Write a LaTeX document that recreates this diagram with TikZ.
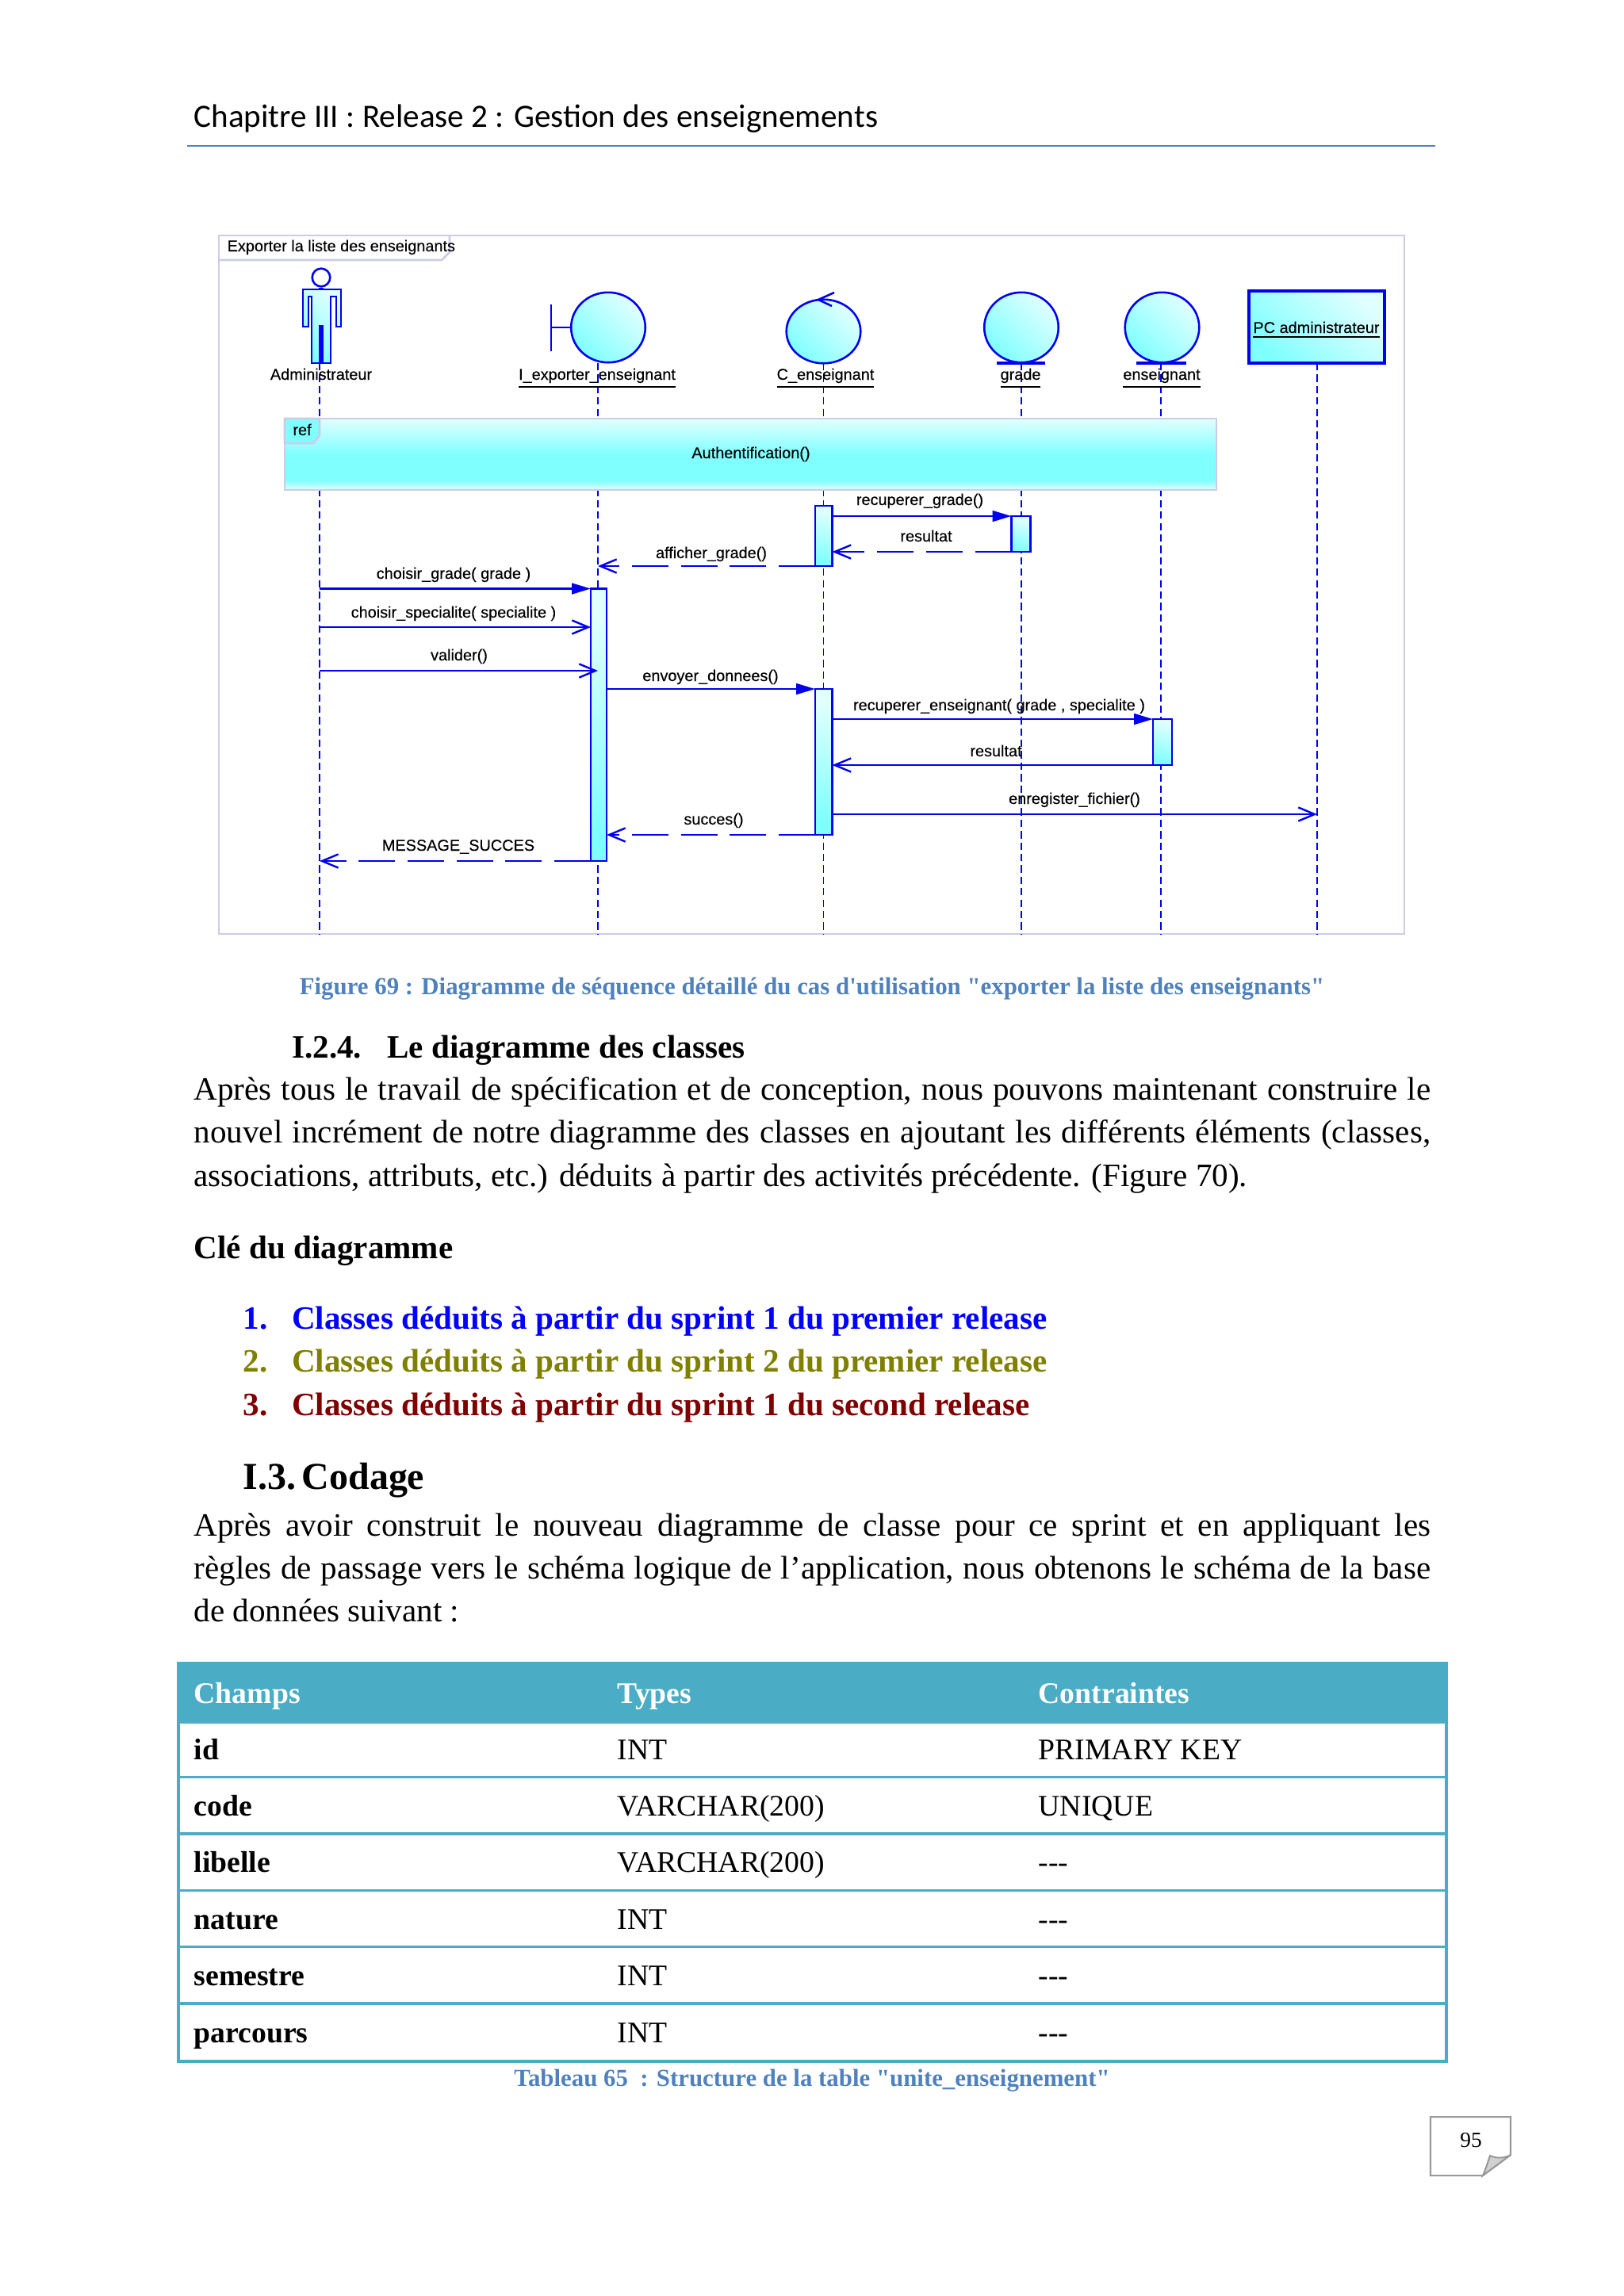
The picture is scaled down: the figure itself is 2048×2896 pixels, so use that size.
\documentclass[tikz,border=0pt]{standalone}
\usepackage{fontspec}
\setmainfont{Liberation Serif}
\setsansfont{Liberation Sans}
\newfontfamily\headfont{Carlito}
\newfontfamily\capfont{Liberation Serif}
\newfontfamily\seqfont{Liberation Sans}[FakeBold=0.25]
\usetikzlibrary{positioning,calc,fit,shapes.geometric}
\usetikzlibrary{arrows.meta}
\definecolor{SeqBlue}{RGB}{0,0,240}
\definecolor{SeqFrame}{RGB}{204,204,232}
\definecolor{PaleCyan}{RGB}{225,255,255}
\definecolor{DeepCyan}{RGB}{128,255,255}
\definecolor{RuleBlue}{RGB}{79,129,189}
\definecolor{TabTeal}{RGB}{75,172,198}
\definecolor{KeyOlive}{RGB}{128,128,0}
\definecolor{KeyRed}{RGB}{128,0,0}
\pgfdeclareverticalshading{refshade}{100bp}{color(0bp)=(PaleCyan); color(25bp)=(PaleCyan); color(32bp)=(DeepCyan); color(50bp)=(DeepCyan); color(75bp)=(PaleCyan); color(100bp)=(PaleCyan)}
\tikzset{
	callend/.tip={Triangle[length=7pt,width=4pt]},
	openend/.tip={Straight Barb[length=6pt,width=5pt,line width=0.7pt]},
	seqline/.style={draw=SeqBlue,line width=0.75pt},
	life/.style={draw=SeqBlue,line width=0.5pt,dash pattern=on 2.7pt off 1.5pt},
	call/.style={seqline,-callend},
	sendopen/.style={seqline,-openend},
	reply/.style={seqline,-openend,dash pattern=on 13.4pt off 4.6pt},
	ball/.style={seqline,ellipse,inner sep=0pt,outer sep=0pt,minimum width=27.3pt,minimum height=25.8pt,left color=PaleCyan,right color=DeepCyan,shading angle=-45},
	actbar/.style={seqline,rectangle,inner sep=0pt,outer sep=0pt,left color=PaleCyan,right color=DeepCyan,shading angle=-20},
	seqtext/.style={font=\seqfont\fontsize{5.8}{6.5}\selectfont,inner sep=0pt,anchor=base},
	bodytext/.style={font=\fontsize{12}{15.85}\selectfont,anchor=north west,inner sep=0pt,text width=455pt,align=justify},
	keyitem/.style={font=\bfseries\fontsize{12}{14}\selectfont,anchor=base west,inner sep=0pt},
	cell/.style={font=\fontsize{11}{13}\selectfont,anchor=base west,inner sep=0pt},
	boldcell/.style={cell,font=\bfseries\fontsize{11}{13}\selectfont},
	tabline/.style={draw=TabTeal,line width=1pt},
	caption/.style={font=\capfont\bfseries\fontsize{9}{11}\selectfont,text=RuleBlue,inner sep=0pt},
}

\begin{document}
\begin{tikzpicture}[x=0.010254cm,y=-0.010254cm]
	\useasboundingbox (0,0) rectangle (2048,2896);
	\node[font=\headfont\fontsize{12}{14}\selectfont,anchor=base west,inner sep=0pt] (header) at (244,160) {Chapitre III : Release 2 : Gestion des enseignements};
	\coordinate (ruleL) at (236,184);
	\coordinate (ruleR) at (1810,184);
	\draw[RuleBlue,line width=0.75pt] (ruleL)--(ruleR);

	\node[draw=SeqFrame,line width=0.8pt,inner sep=0pt,fit={(276,297)(1771,1178)}] (seqFrame) {};
	\draw[SeqFrame,line width=0.8pt] (567,297)--(567,318)--(557,328)--(276,328);
	\node[seqtext,anchor=base west] (frameTitle) at (286,317) {Exporter la liste des enseignants};

	\foreach \p/\x/\y in {admin/403/458,iExp/754/458,cEns/1038.5/458,grade/1288/458,ens/1464/458}{
		\coordinate (\p Top) at (\x,\y);
		\coordinate (\p End) at (\x,1178);
		\draw[life] (\p Top)--(\p End);
	}
	\coordinate (pcTop) at (1661,458);
	\coordinate (pcEnd) at (1661,1178);
	\draw[life,line width=0.8pt] (pcTop)--(pcEnd);

	\node[draw=SeqFrame,line width=0.8pt,inner sep=0pt,shading=refshade,fit={(359,528)(1534,618)}] (refBox) {};
	\draw[SeqFrame,line width=0.8pt,fill=DeepCyan] (359,528)--(403,528)--(403,549)--(395,559)--(359,559)--cycle;
	\node[seqtext] (refTag) at (381,549) {ref};
	\node[seqtext] (refText) at (947,578) {Authentification()};

	\draw[seqline,left color=PaleCyan,right color=DeepCyan,shading angle=-45] (382,365)--(430,365)--(430,412)--(424,412)--(424,374)--(417,374)--(417,458)--(393,458)--(393,374)--(389,374)--(389,412)--(382,412)--cycle;
	\node[seqline,circle,fill=white,inner sep=0pt,minimum size=6.6pt] (adminHead) at (405,350) {};
	\draw[seqline,line width=1.5pt] (adminHead.south)--(405,365);
	\draw[seqline,line width=1.8pt] (405,410)--(405,458);

	\node[ball] (iBall) at (767,413) {};
	\coordinate (iBarT) at (695,384);
	\coordinate (iBarB) at (695,443);
	\draw[seqline] (iBarT)--(iBarB);
	\draw[seqline] (iBarT|-iBall.west)--(iBall.west);
	\node[ball,minimum height=23.5pt] (cBall) at (1038.5,418) {};
	\draw[seqline] (1052,369)--(1032,378)--(1049,386);
	\node[ball] (gBall) at (1288,413) {};
	\node[ball] (eBall) at (1465.5,413) {};
	\draw[seqline,line width=1pt] (1257,458)--(1318,458);
	\draw[seqline,line width=1pt] (1433,458)--(1496,458);
	\node[actbar,line width=0.9pt,shading angle=-45,fit={(1575,367)(1746,458)}] (pcBox) {};

	\node[seqtext] (lblAdmin) at (405,479) {Administrateur};
	\node[seqtext] (lblI) at (753,479) {\underline{I\_exporter\_enseignant}};
	\node[seqtext] (lblC) at (1041,479) {\underline{C\_enseignant}};
	\node[seqtext] (lblG) at (1287,479) {\underline{grade}};
	\node[seqtext] (lblE) at (1465,479) {\underline{enseignant}};
	\node[seqtext] (lblPC) at (1660,420) {\underline{PC administrateur}};

	\node[actbar,fit={(1028,638)(1049.5,714)}] (actC1) {};
	\node[actbar,fit={(1275.5,651)(1299.5,696)}] (actG) {};
	\node[actbar,fit={(745,742.5)(765,1086)}] (actI) {};
	\node[actbar,fit={(1028,869)(1049.5,1053)}] (actC2) {};
	\node[actbar,fit={(1454,907)(1478,965)}] (actE) {};

	\coordinate (yChoix) at (0,791);
	\coordinate (yValider) at (0,846);
	\coordinate (yFichier) at (0,1027);
	\draw[call] (actC1.east|-actG.north)--(actG.north west);
	\draw[reply] (actG.south west)--(actC1.east|-actG.south);
	\draw[reply] (actC1.south west)--(iExpTop|-actC1.south);
	\draw[call] (adminTop|-actI.north)--(actI.north west);
	\draw[sendopen] (adminTop|-yChoix)--(actI.west|-yChoix);
	\draw[sendopen] (adminTop|-yValider)--(iExpTop|-yValider);
	\draw[call] (actI.east|-actC2.north)--(actC2.north west);
	\draw[call] (actC2.east|-actE.north)--(actE.north west);
	\draw[sendopen] (actE.south west)--(actC2.east|-actE.south);
	\draw[sendopen] (actC2.east|-yFichier)--(pcTop|-yFichier);
	\draw[reply] (actC2.south west)--(actI.east|-actC2.south);
	\draw[reply] (actI.south west)--(adminTop|-actI.south);

	\node[seqtext] (msgA) at (1160,637) {recuperer\_grade()};
	\node[seqtext] (msgB) at (1168,683) {resultat};
	\node[seqtext] (msgC) at (897,704) {afficher\_grade()};
	\node[seqtext] (msgD) at (572,730) {choisir\_grade( grade )};
	\node[seqtext] (msgE) at (572,779) {choisir\_specialite( specialite )};
	\node[seqtext] (msgF) at (579,833) {valider()};
	\node[seqtext] (msgG) at (896,859) {envoyer\_donnees()};
	\node[seqtext] (msgH) at (1260,896) {recuperer\_enseignant( grade , specialite )};
	\node[seqtext] (msgI) at (1256,954) {resultat};
	\node[seqtext] (msgJ) at (1355,1014) {enregister\_fichier()};
	\node[seqtext] (msgK) at (900,1040) {succes()};
	\node[seqtext] (msgL) at (578,1073) {MESSAGE\_SUCCES};

	\node[caption] (figCap) at (1024,1247) {Figure 69 : Diagramme de séquence détaillé du cas d'utilisation "exporter la liste des enseignants"};

	\node[font=\bfseries\fontsize{12}{14}\selectfont,anchor=base west,inner sep=0pt] (secNum) at (367.5,1334) {I.2.4.};
	\node[font=\bfseries\fontsize{12}{14}\selectfont,anchor=base west,inner sep=0pt] (secTitle) at (487.5,1334) {Le diagramme des classes};
	\node[bodytext] (paraA) at (244,1358) {Après tous le travail de spécification et de conception, nous pouvons maintenant construire le\linebreak nouvel incrément de notre diagramme des classes en ajoutant les différents éléments (classes,\linebreak associations, attributs, etc.) déduits à partir des activités précédente. (Figure 70).};
	\node[keyitem] (keyTitle) at (244,1587) {Clé du diagramme};
	\foreach \n/\t/\c/\y in {1/Classes déduits à partir du sprint 1 du premier release/blue/1676,2/Classes déduits à partir du sprint 2 du premier release/KeyOlive/1730,3/Classes déduits à partir du sprint 1 du second release/KeyRed/1785}{
		\node[keyitem,text=\c] (keyNum\n) at (306,\y) {\n.};
		\node[keyitem,text=\c] (keyText\n) at (367.5,\y) {\t};
	}
	\node[font=\bfseries\fontsize{14}{16}\selectfont,anchor=base west,inner sep=0pt] (codeNum) at (306,1878) {I.3.};
	\node[font=\bfseries\fontsize{14}{16}\selectfont,anchor=base west,inner sep=0pt] (codeTitle) at (380,1878) {Codage};
	\node[bodytext] (paraB) at (244,1908) {Après avoir construit le nouveau diagramme de classe pour ce sprint et en appliquant les\linebreak règles de passage vers le schéma logique de l’application, nous obtenons le schéma de la base\linebreak de données suivant :};

	\node[tabline,fill=TabTeal,inner sep=0pt,fit={(225,2098)(1824,2172)}] (tabHead) {};
	\node[tabline,inner sep=0pt,fit={(225,2172)(1824,2600)}] (tabBody) {};
	\foreach \k in {1,...,5}
	\draw[tabline] ($(tabBody.north west)+(0,71.3*\k)$)--($(tabBody.north east)+(0,71.3*\k)$);
	\node[boldcell,text=white] (headA) at (244,2148) {Champs};
	\node[boldcell,text=white] (headB) at (778,2148) {Types};
	\node[boldcell,text=white] (headC) at (1309,2148) {Contraintes};
	\foreach \a/\b/\c [count=\i] in {id/INT/PRIMARY KEY,code/VARCHAR(200)/UNIQUE,libelle/VARCHAR(200)/{-}{-}{-},nature/INT/{-}{-}{-},semestre/INT/{-}{-}{-},parcours/INT/{-}{-}{-}}{
		\pgfmathsetmacro{\rowy}{2219+71.4*(\i-1)}
		\node[boldcell] (rowA\i) at (244,\rowy) {\a};
		\node[cell] (rowB\i) at (778,\rowy) {\b};
		\node[cell] (rowC\i) at (1309,\rowy) {\c};
	}
	\node[caption] (tabCap) at (1024,2624) {Tableau 65\ \ : Structure de la table "unite\_enseignement"};

	\draw[draw=black!40,fill=white,line width=0.6pt] (1804,2670)--(1905,2670)--(1905,2718)--(1870,2744)--(1804,2744)--cycle;
	\draw[draw=black!40,fill=black!18,line width=0.6pt] (1870,2744) .. controls (1874,2735) and (1876,2728) .. (1879,2719) .. controls (1888,2723) and (1898,2722) .. (1905,2718)--cycle;
	\node[font=\fontsize{8}{10}\selectfont,inner sep=0pt] (pageNum) at (1855,2700) {95};
\end{tikzpicture}
\end{document}
